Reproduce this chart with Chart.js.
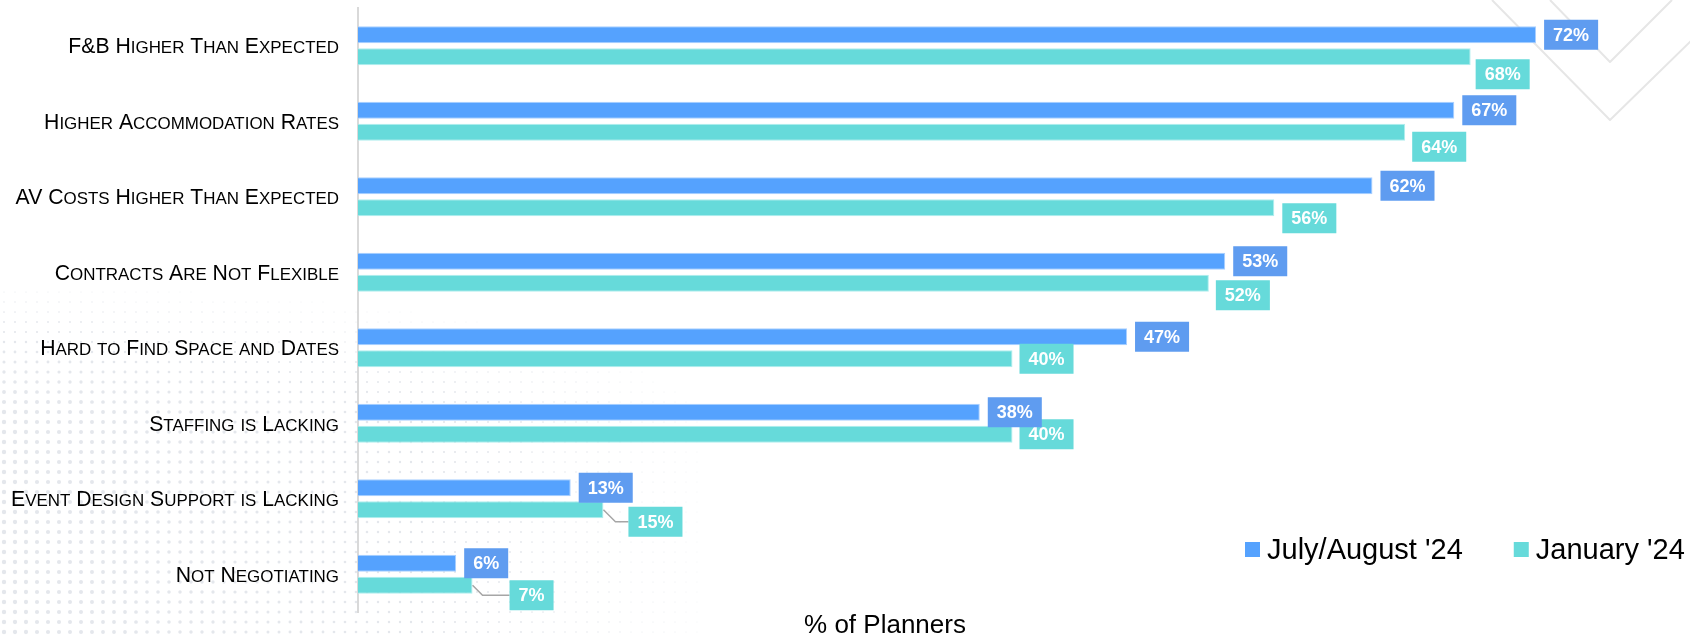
<!DOCTYPE html>
<html>
<head>
<meta charset="utf-8">
<title>Planner cost concerns</title>
<script src="https://cdn.jsdelivr.net/npm/chart.js@4.4.1/dist/chart.umd.min.js"></script>
<style>
  html, body { margin: 0; padding: 0; background: #fff; }
  #chart { display: block; }
</style>
</head>
<body>
<canvas id="chart" width="1690" height="636"></canvas>
<script>
var categories = [
    'F&B Higher Than Expected',
    'Higher Accommodation Rates',
    'AV Costs Higher Than Expected',
    'Contracts Are Not Flexible',
    'Hard to Find Space and Dates',
    'Staffing is Lacking',
    'Event Design Support is Lacking',
    'Not Negotiating'
];
var julyAugust = [72, 67, 62, 53, 47, 38, 13, 6];
var january = [68, 64, 56, 52, 40, 40, 15, 7];
var seriesNames = ["July/August '24", "January '24"];
var axisTitle = '% of Planners';

var FONT = "'Liberation Sans', Arial, sans-serif";

// the January tags were nudged by hand in the original, keep those nudges
var tealDrop = [17.5, 14.5, 10.5, 12, 0, 0, 12, 10];
var tealGap = [5, 7, 8, 7, 7, 7, 25, 37];

// canvas ignores small-caps, so fake it: lower case letters become smaller capitals
function smallCaps(c, text, xRight, y, size) {
    var big = size + 'px ' + FONT;
    var small = (size * 0.8) + 'px ' + FONT;
    var runs = [];
    for (var k = 0; k < text.length; k++) {
        var ch = text[k];
        var low = ch !== ch.toUpperCase();
        var f = low ? small : big;
        var last = runs[runs.length - 1];
        if (last && last.f === f) last.t += ch.toUpperCase();
        else runs.push({ f: f, t: ch.toUpperCase() });
    }
    var total = 0;
    runs.forEach(function (r) {
        c.font = r.f;
        r.w = c.measureText(r.t).width;
        total += r.w;
    });
    var x = xRight - total;
    runs.forEach(function (r) {
        c.font = r.f;
        c.fillText(r.t, x, y);
        x += r.w;
    });
}

// faint dots and chevron outlines behind the plot
var backdrop = {
    id: 'backdrop',
    beforeDraw: function (chart) {
        var c = chart.ctx;
        c.save();
        c.fillStyle = '#e4e7ec';
        for (var y = 262; y < 636; y += 10) {
            for (var x = 4; x < 900; x += 11) {
                var fx = 1 - x / 880;
                var fy = Math.min(1, (y - 250) / 160);
                var r = 2.2 * fx * fy;
                if (r < 0.45) continue;
                c.beginPath();
                c.arc(x, y, r, 0, Math.PI * 2);
                c.fill();
            }
        }
        c.strokeStyle = '#e6e6e6';
        c.lineWidth = 2;
        c.lineJoin = 'round';
        c.beginPath();
        c.moveTo(1492, 0);
        c.lineTo(1610, 120);
        c.lineTo(1692, 40);
        c.stroke();
        c.beginPath();
        c.moveTo(1550, 0);
        c.lineTo(1610, 62);
        c.lineTo(1672, 0);
        c.stroke();
        c.restore();
    }
};

// category names in small capitals, right aligned against the axis
var names = {
    id: 'names',
    afterDraw: function (chart) {
        var c = chart.ctx;
        var yScale = chart.scales.y;
        c.save();
        c.fillStyle = '#000';
        c.textAlign = 'left';
        c.textBaseline = 'alphabetic';
        chart.data.labels.forEach(function (label, i) {
            smallCaps(c, label, yScale.right - 19, yScale.getPixelForTick(i) + 7.6, 21.2);
        });
        c.restore();
    }
};

// value tags beside each bar
var tags = {
    id: 'tags',
    afterDatasetsDraw: function (chart) {
        var c = chart.ctx;
        c.save();
        c.font = 'bold 18px ' + FONT;
        c.textAlign = 'center';
        c.textBaseline = 'middle';
        [1, 0].forEach(function (di) {
            var ds = chart.data.datasets[di];
            chart.getDatasetMeta(di).data.forEach(function (bar, i) {
                var text = ds.data[i] + '%';
                var w = c.measureText(text).width + 18;
                var h = 30;
                var drop = di === 1 ? tealDrop[i] : 0;
                var gap = di === 1 ? tealGap[i] : 8;
                var x0 = bar.x + gap;
                var cy = bar.y + drop;
                if (gap > 15) {
                    c.strokeStyle = '#a6a6a6';
                    c.lineWidth = 1.5;
                    c.beginPath();
                    c.moveTo(bar.x, bar.y);
                    c.lineTo(bar.x + drop, cy);
                    c.lineTo(x0, cy);
                    c.stroke();
                }
                c.fillStyle = ds.tagColor;
                c.fillRect(x0, cy - h / 2, w, h);
                c.fillStyle = '#fff';
                c.fillText(text, x0 + w / 2, cy + 1);
            });
        });
        c.restore();
    }
};

// legend in the lower right and the axis title under the plot
var extras = {
    id: 'extras',
    afterDraw: function (chart) {
        var c = chart.ctx;
        c.save();
        c.font = '29px ' + FONT;
        c.textBaseline = 'alphabetic';
        c.textAlign = 'left';
        var x = 1245;
        chart.data.datasets.forEach(function (ds) {
            c.fillStyle = ds.backgroundColor;
            c.fillRect(x, 542, 15, 15);
            c.fillStyle = '#000';
            c.fillText(ds.label, x + 22, 559);
            x += 22 + c.measureText(ds.label).width + 51;
        });
        c.font = '26px ' + FONT;
        c.textAlign = 'center';
        c.fillText(axisTitle, 885, 633);
        c.restore();
    }
};

var ctx = document.getElementById('chart').getContext('2d');

var chart = new Chart(ctx, {
    type: 'bar',
    data: {
        labels: categories,
        datasets: [{
            label: seriesNames[0],
            data: julyAugust,
            backgroundColor: '#55a2fe',
            borderColor: '#a9cfff',
            borderWidth: 1,
            tagColor: '#5f9cf0'
        }, {
            label: seriesNames[1],
            data: january,
            backgroundColor: '#66dada',
            borderColor: '#b0eeee',
            borderWidth: 1,
            tagColor: '#66dada'
        }]
    },
    options: {
        indexAxis: 'y',
        responsive: false,
        animation: false,
        devicePixelRatio: 1,
        layout: { padding: { top: 8, bottom: 24, left: 0, right: 23 } },
        datasets: { bar: { categoryPercentage: 0.583, barPercentage: 0.773 } },
        plugins: {
            legend: { display: false },
            tooltip: { enabled: false }
        },
        scales: {
            x: { display: false, min: 0, max: 80 },
            y: {
                afterFit: function (scale) { scale.width = 358; },
                grid: { display: false, drawTicks: false },
                border: { display: true, color: '#d9d9d9', width: 2 },
                ticks: { display: false }
            }
        }
    },
    plugins: [backdrop, tags, names, extras]
});
</script>
</body>
</html>
